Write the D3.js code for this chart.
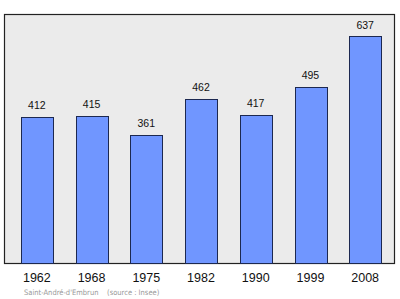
<!DOCTYPE html>
<html><head><meta charset="utf-8">
<script src="https://cdn.jsdelivr.net/npm/d3@7"></script>
<style>body{margin:0;background:#fff}svg{display:block}</style>
</head><body>
<script>
const years = ["1962","1968","1975","1982","1990","1999","2008"];
const population = [412,415,361,462,417,495,637];
const yMax = 700;
const footerText = "Saint-André-d'Embrun    (source : Insee)";

(function(){
const W=400,H=299;
const svg=d3.select("body").append("svg").attr("width",W).attr("height",H);
const pLeft=4.5, pRight=394.5, pTop=14.5, pBottom=263.5;
const x=d3.scaleBand().domain(years).range([9.5,392.5]).paddingInner(0.42).paddingOuter(0.21);
const y=d3.scaleLinear().domain([0,yMax]).range([264,14]);

svg.append("rect").attr("x",pLeft).attr("y",pTop).attr("width",pRight-pLeft).attr("height",pBottom-pTop)
  .attr("fill","#ebebeb").attr("stroke","#222").attr("stroke-width",1.2);

svg.selectAll("rect.bar").data(population).join("rect").attr("class","bar")
  .attr("x",(d,i)=>Math.round(x(years[i]))+0.5).attr("y",d=>Math.round(y(d))+0.5)
  .attr("width",Math.round(x.bandwidth())).attr("height",d=>pBottom-Math.round(y(d))-0.5)
  .attr("fill","#7096ff").attr("stroke","#1c2850").attr("stroke-width",1);

svg.selectAll("text.val").data(population).join("text").attr("class","val")
  .attr("x",(d,i)=>x(years[i])+x.bandwidth()/2).attr("y",d=>y(d)-8)
  .attr("text-anchor","middle").attr("font-family","Liberation Sans, Arial, sans-serif").attr("font-size",10.5)
  .attr("fill","#111").text(d=>d);

const ax=svg.append("g").attr("transform",`translate(0,${pBottom})`)
  .call(d3.axisBottom(x).tickSize(0).tickPadding(0));
ax.select(".domain").remove();
ax.selectAll("text").attr("y",18).attr("dy",0).attr("font-family","Liberation Sans, Arial, sans-serif").attr("font-size",12.5).attr("fill","#111");

svg.append("text").attr("x",24).attr("y",294.5).attr("font-family","DejaVu Sans Condensed, DejaVu Sans")
  .attr("font-size",7.5).attr("fill","#999").style("white-space","pre").text(footerText);
})();
</script>
</body></html>
